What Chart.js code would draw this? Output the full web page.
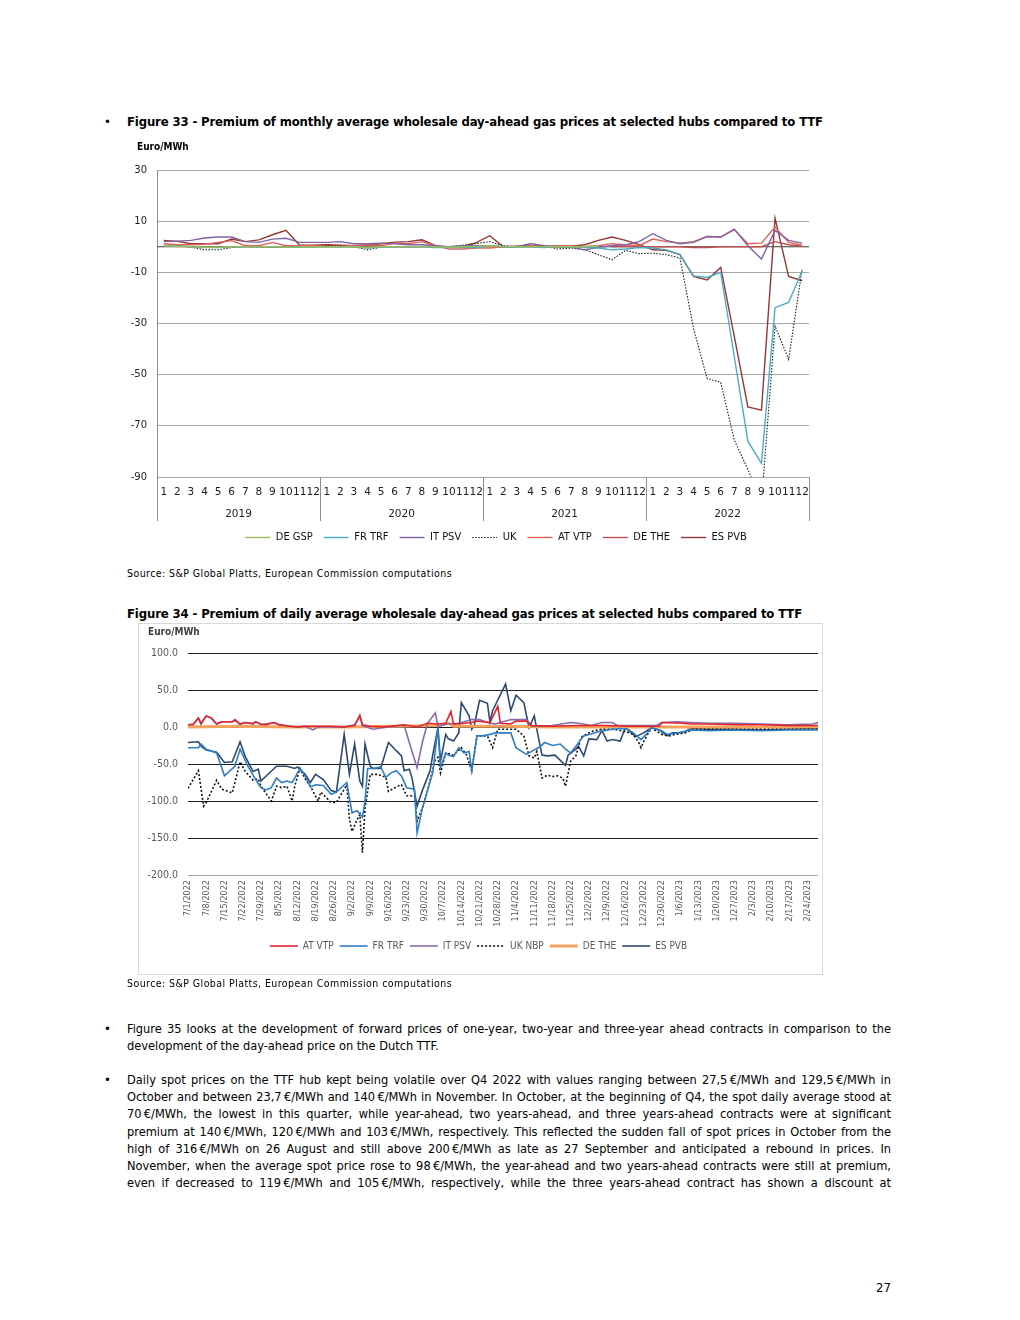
<!DOCTYPE html>
<html><head><meta charset="utf-8">
<script src="https://cdn.jsdelivr.net/npm/chart.js@4.4.0/dist/chart.umd.min.js"></script>
<style>
html,body{margin:0;padding:0;background:#fff;}
body{width:1020px;height:1320px;position:relative;overflow:hidden;font-family:'Liberation Sans Narrow','DejaVu Sans Condensed',Lato,sans-serif;color:#000;}
.t{position:absolute;white-space:nowrap;line-height:16px;}
.title{font-weight:bold;font-size:13px;}
.src{font-size:10.5px;}
.unit{font-weight:bold;font-size:10px;}
.para{position:absolute;left:127px;width:764px;font-size:12.7px;line-height:17.2px;}
.para div{text-align:justify;text-align-last:justify;white-space:nowrap;}
.para div.last{text-align-last:left;}
#box2{position:absolute;left:138px;top:623px;width:685px;height:352px;border:1px solid #D9D9D9;box-sizing:border-box;}
#c1{position:absolute;left:120px;top:138px;}
#c2{position:absolute;left:0;top:0;}
</style></head>
<body>
<div class="t" style="left:104px;top:114px;font-size:13px;">•</div>
<div class="t title" data-w="696" style="left:127px;top:114px;">Figure 33 - Premium of monthly average wholesale day-ahead gas prices at selected hubs compared to TTF</div>
<canvas id="c1" width="752" height="418"></canvas>
<div class="t unit" style="left:137px;top:139px;">Euro/MWh</div>
<div class="t src" data-w="325" style="left:127px;top:565px;">Source: S&amp;P Global Platts, European Commission computations</div>

<div class="t title" data-w="675" style="left:127px;top:606px;">Figure 34 - Premium of daily average wholesale day-ahead gas prices at selected hubs compared to TTF</div>
<div id="box2"><canvas id="c2" width="685" height="352"></canvas></div>
<div class="t unit" style="left:148px;top:624px;color:#404040;">Euro/MWh</div>
<div class="t src" data-w="325" style="left:127px;top:975px;">Source: S&amp;P Global Platts, European Commission computations</div>

<div class="t" style="left:104px;top:1021px;font-size:13px;">•</div>
<div class="para" style="top:1020px;">
<div>Figure 35 looks at the development of forward prices of one-year, two-year and three-year ahead contracts in comparison to the</div>
<div class="last">development of the day-ahead price on the Dutch TTF.</div>
</div>
<div class="t" style="left:104px;top:1072px;font-size:13px;">•</div>
<div class="para" style="top:1071px;">
<div>Daily spot prices on the TTF hub kept being volatile over Q4 2022 with values ranging between 27,5&#8239;€/MWh and 129,5&#8239;€/MWh in</div>
<div>October and between 23,7&#8239;€/MWh and 140&#8239;€/MWh in November. In October, at the beginning of Q4, the spot daily average stood at</div>
<div>70&#8239;€/MWh, the lowest in this quarter, while year-ahead, two years-ahead, and three years-ahead contracts were at significant</div>
<div>premium at 140&#8239;€/MWh, 120&#8239;€/MWh and 103&#8239;€/MWh, respectively. This reflected the sudden fall of spot prices in October from the</div>
<div>high of 316&#8239;€/MWh on 26 August and still above 200&#8239;€/MWh as late as 27 September and anticipated a rebound in prices. In</div>
<div>November, when the average spot price rose to 98&#8239;€/MWh, the year-ahead and two years-ahead contracts were still at premium,</div>
<div>even if decreased to 119&#8239;€/MWh and 105&#8239;€/MWh, respectively, while the three years-ahead contract has shown a discount at</div>
</div>
<div class="t" style="left:860px;top:1280px;width:31px;text-align:right;font-size:13px;">27</div>

<script>
// ---------- Figure 33 data (monthly, Jan 2019 - Dec 2022) ----------
const monthLabels = ['1','2','3','4','5','6','7','8','9','10','11','12',
  '1','2','3','4','5','6','7','8','9','10','11','12',
  '1','2','3','4','5','6','7','8','9','10','11','12',
  '1','2','3','4','5','6','7','8','9','10','11','12'];
const years = ['2019','2020','2021','2022'];
const deGsp = [0.3,0.2,0,-0.2,-0.2,0,0,0,0,-0.2,0,0,
  0,0,0,-0.3,0,0,0,0,0,-0.2,0,0.2,
  0.3,0,0,0,0,0,0,0,0.3,null,null,null,
  null,null,null,null,null,null,null,null,null,null,null,null];
const frTrf = [0.4,0.3,0,-0.3,-0.3,0,0,0,0,-0.2,-0.2,0,
  0,0,0,-0.5,-0.2,0,0,0,-0.3,-0.3,-0.2,-0.3,
  0.3,0,-0.2,0,-0.3,0,0,-0.3,-0.5,-1.2,-0.9,-0.3,
  -0.5,-1.2,-3.1,-11.4,-12,-10,-43,-76,-84.7,-23.8,-21.8,-9.4];
const itPsv = [2.0,2.2,2.5,3.4,3.8,3.8,2.0,1.7,3.0,3.3,1.7,1.7,
  1.7,2.0,1.2,1.2,1.4,1.2,0.8,0.8,0.4,0.0,0.4,0.4,
  0.4,0,0,1.2,0.4,-0.2,-0.2,-1.2,-0.2,0.4,0.8,2.0,
  5.1,2.5,1.2,1.7,4.0,3.8,6.9,0.4,-4.8,6.4,2.5,1.4];
const uk = [0.4,0.4,-0.1,-1.2,-1.2,-0.3,0,-0.1,-0.3,-0.3,0,0,
  0.4,0.4,0,-1.2,-0.1,-0.1,0,0,-0.1,0,0.6,1.2,
  2.0,0.4,-0.1,1.2,0.4,-0.9,-0.5,-1.2,-3.1,-5.1,-1.4,-2.7,
  -2.5,-3.1,-4.4,-32,-51.5,-53,-75.6,-87,-100,-31,-44,-8.5];
const atVtp = [1.2,0.8,0.8,1.0,1.7,2.4,0.4,0.4,1.7,0.4,0.4,0.4,
  0.4,0.4,0.4,0.8,0.4,1.4,1.2,2.0,0.4,-0.9,-0.9,-0.5,
  -0.5,0,0,0.4,0.2,0.4,0.2,0,0.4,1.2,0.8,0.4,
  3.0,2.0,1.4,2.0,4.0,3.8,6.7,1.2,1.4,7.7,1.7,0.6];
const deThe = [null,null,null,null,null,null,null,null,null,null,null,null,
  null,null,null,null,null,null,null,null,null,null,null,null,
  null,null,null,null,null,null,null,null,null,0,0.2,0,
  0,0,0,-0.3,-0.3,0,0,0,0,2.0,0.8,0.2];
const esPvb = [2.5,2.1,1.2,1.2,1.2,3.0,2.0,2.7,4.7,6.4,0.6,0.6,
  0.8,0.6,0.4,0.6,1.2,1.8,2.0,2.7,0.4,-0.2,0,1.6,
  4.3,0,0.2,0.4,0,0.2,0.2,0.8,2.5,3.8,2.5,0.8,
  -1.2,-1.4,-3.1,-11.6,-13,-8.1,-35,-62.6,-63.9,11.2,-11.6,-13.3];

// ---------- Figure 34 data (daily; x = days since 1 Jul 2022) ----------
const weekLabels = ['7/1/2022','7/8/2022','7/15/2022','7/22/2022','7/29/2022','8/5/2022','8/12/2022','8/19/2022','8/26/2022',
  '9/2/2022','9/9/2022','9/16/2022','9/23/2022','9/30/2022','10/7/2022','10/14/2022','10/21/2022','10/28/2022',
  '11/4/2022','11/11/2022','11/18/2022','11/25/2022','12/2/2022','12/9/2022','12/16/2022','12/23/2022','12/30/2022',
  '1/6/2023','1/13/2023','1/20/2023','1/27/2023','2/3/2023','2/10/2023','2/17/2023','2/24/2023'];
const lastDay = 242;
const atVtpD = [[0,3],[2,3],[4,12],[5,4],[7,15],[9,12],[11,4],[13,7],[17,7],[18,10],[20,4],[22,6],[25,5],[26,7],[28,4],[30,3],[33,6],[35,3],[39,1],[42,0],[45,1],[48,1],[55,1],[60,0],[64,2],[66,16],[67,3],[70,1],[75,0],[83,3],[88,0],[92,5],[96,4],[99,5],[101,21],[102,4],[106,5],[109,6],[111,8],[116,6],[119,28],[120,5],[124,4],[126,8],[130,8],[132,2],[140,1],[150,2],[160,2],[170,1],[181,1],[182,6],[190,5],[193,4],[200,4],[210,3],[220,3],[230,2],[240,2],[242,2]];
const frTrfD = [[0,-28],[4,-28],[5,-23],[7,-30],[11,-35],[14,-66],[18,-53],[20,-30],[23,-53],[26,-71],[28,-82],[30,-85],[32,-82],[34,-69],[36,-75],[38,-73],[40,-75],[41,-69],[43,-56],[45,-66],[47,-81],[49,-78],[52,-79],[55,-91],[57,-88],[61,-75],[63,-116],[65,-113],[67,-122],[68,-100],[69,-56],[71,-56],[74,-54],[76,-68],[78,-62],[80,-59],[82,-66],[84,-82],[87,-84],[88,-143],[90,-110],[92,-86],[94,-62],[96,-1],[97,-55],[99,-35],[100,-38],[102,-40],[104,-28],[106,-35],[108,-33],[109,-59],[111,-12],[113,-12],[116,-10],[118,-8],[124,-8],[126,-28],[130,-37],[132,-33],[135,-27],[137,-21],[140,-25],[143,-23],[145,-30],[147,-35],[149,-26],[152,-12],[154,-10],[158,-6],[163,-3],[166,-2],[169,-3],[171,-8],[174,-17],[176,-10],[178,-1],[182,-5],[184,-10],[188,-8],[193,-4],[200,-5],[210,-4],[220,-5],[230,-4],[242,-4]];
const itPsvD = [[0,3],[2,4],[4,12],[5,5],[7,15],[9,12],[11,4],[13,7],[17,7],[18,9],[20,4],[22,6],[25,4],[26,7],[28,3],[33,6],[35,3],[42,0],[45,1],[48,-4],[50,0],[60,0],[64,3],[66,14],[67,2],[71,-3],[83,3],[85,-21],[88,-55],[90,-21],[92,5],[95,19],[96,0],[99,4],[104,5],[109,10],[112,10],[115,6],[118,4],[124,10],[130,10],[132,1],[140,2],[147,6],[150,5],[155,2],[159,6],[163,6],[165,2],[170,2],[180,2],[182,6],[188,7],[193,6],[200,5],[210,5],[220,4],[230,3],[240,4],[242,6]];
const ukNbpD = [[0,-83],[4,-59],[6,-107],[7,-102],[11,-72],[13,-84],[17,-89],[20,-47],[22,-60],[25,-72],[27,-70],[28,-80],[32,-100],[34,-80],[36,-82],[38,-80],[40,-100],[41,-80],[43,-56],[45,-70],[47,-80],[50,-100],[51,-88],[53,-95],[55,-102],[57,-102],[61,-78],[62,-125],[63,-141],[65,-125],[66,-118],[67,-170],[68,-110],[70,-64],[73,-64],[76,-68],[77,-87],[80,-81],[82,-78],[84,-93],[87,-93],[88,-127],[90,-110],[92,-86],[95,-44],[96,-41],[97,-62],[99,-35],[102,-38],[105,-28],[107,-38],[109,-59],[111,-12],[113,-12],[115,-12],[117,-28],[119,-3],[123,-3],[126,-3],[129,-12],[131,-39],[133,-42],[134,-33],[136,-69],[138,-65],[140,-67],[142,-66],[144,-69],[145,-80],[147,-46],[149,-39],[151,-14],[155,-6],[159,-3],[163,-3],[168,-6],[171,-10],[173,-20],[174,-28],[175,-20],[178,-1],[182,-10],[185,-12],[187,-10],[191,-8],[194,-3],[210,-3],[225,-3],[242,-3]];
const deTheD = [[0,0],[20,1],[40,0],[60,0],[80,1],[96,2],[100,5],[102,1],[120,1],[140,0],[160,0],[180,0],[200,0],[220,0],[242,0]];
const esPvbD = [[0,-21],[4,-20],[5,-26],[7,-31],[11,-34],[14,-48],[17,-47],[20,-20],[22,-40],[25,-60],[27,-57],[28,-73],[34,-53],[38,-53],[41,-56],[42,-54],[45,-64],[47,-75],[49,-64],[52,-71],[55,-86],[57,-88],[60,-10],[62,-64],[64,-23],[66,-73],[67,-80],[68,-23],[70,-53],[71,-56],[74,-56],[77,-21],[80,-32],[82,-39],[83,-59],[85,-57],[86,-68],[88,-107],[90,-86],[93,-59],[94,-38],[96,-1],[97,-46],[99,-10],[100,-16],[102,-19],[104,-8],[105,33],[108,15],[109,-3],[110,3],[112,36],[115,32],[116,7],[117,22],[122,58],[124,22],[126,43],[129,33],[131,-1],[133,15],[135,-21],[136,-38],[138,-39],[141,-38],[145,-52],[146,-38],[149,-30],[150,-26],[152,-39],[154,-16],[157,-17],[159,-5],[161,-19],[163,-17],[166,-19],[168,-1],[171,-10],[172,-13],[175,-8],[178,-1],[181,-4],[184,-12],[186,-8],[188,-8],[191,-6],[193,-2],[200,-3],[210,-3],[220,-4],[230,-3],[240,-2],[242,-2]];

// fit title / source widths
document.querySelectorAll('[data-w]').forEach(el => {
  const w = +el.dataset.w, cur = el.getBoundingClientRect().width, n = el.textContent.length;
  el.style.letterSpacing = ((w - cur) / n).toFixed(3) + 'px';
});

const NARROW = "'Liberation Sans Narrow','DejaVu Sans Condensed',Lato,sans-serif";
Chart.defaults.font.family = NARROW;

// legend items drawn as line samples using each dataset's own line style
function lineLegendLabels(chart) {
  const items = Chart.defaults.plugins.legend.labels.generateLabels(chart);
  items.forEach(it => {
    const ds = chart.data.datasets[it.datasetIndex];
    it.pointStyle = 'line';
    it.strokeStyle = ds.borderColor;
    it.fillStyle = ds.borderColor;
    it.lineWidth = ds.borderWidth;
    it.lineDash = ds.borderDash || [];
    it.lineCap = 'butt';
  });
  return items;
}

// ---------- Chart 1 ----------
const yearSeparators = {
  id: 'yearSeparators',
  beforeDatasetsDraw(chart) {
    const {ctx, chartArea: ca, scales} = chart;
    const y0 = scales.y.getPixelForValue(0);
    ctx.save();
    ctx.strokeStyle = '#3a3a3a'; ctx.lineWidth = 1.2;
    ctx.beginPath(); ctx.moveTo(ca.left, y0); ctx.lineTo(ca.right, y0); ctx.stroke();
    ctx.restore();
  },
  afterDraw(chart) {
    const {ctx, chartArea: ca, scales} = chart;
    const sx = scales.x, s2 = scales.x2;
    const per = monthLabels.length / years.length;
    ctx.save();
    ctx.strokeStyle = '#8C8C8C'; ctx.lineWidth = 1;
    for (let i = 0; i <= years.length; i++) {
      let xp;
      if (i === 0) xp = ca.left;
      else if (i === years.length) xp = ca.right;
      else xp = (sx.getPixelForValue(i * per - 1) + sx.getPixelForValue(i * per)) / 2;
      xp = Math.round(xp) + 0.5;
      ctx.beginPath(); ctx.moveTo(xp, ca.bottom); ctx.lineTo(xp, s2.bottom); ctx.stroke();
    }
    ctx.restore();
  }
};
function ds1(label, data, color, extra) {
  return Object.assign({label, data, borderColor: color, backgroundColor: color, borderWidth: 1.4, pointRadius: 0, tension: 0, fill: false, spanGaps: false}, extra || {});
}
new Chart(document.getElementById('c1'), {
  type: 'line',
  data: {labels: monthLabels, datasets: [
    ds1('DE GSP', deGsp, '#9BBB59'),
    ds1('FR TRF', frTrf, '#4BACC6'),
    ds1('IT PSV', itPsv, '#8064A2'),
    ds1('UK', uk, '#1a1a1a', {borderDash: [1.5, 1.5], borderWidth: 1.1}),
    ds1('AT VTP', atVtp, '#E0605C'),
    ds1('DE THE', deThe, '#C0504D'),
    ds1('ES PVB', esPvb, '#963634')
  ]},
  options: {
    responsive: false, animation: false, devicePixelRatio: 1,
    layout: {padding: {top: 32, right: 0, left: 0, bottom: 3}},
    scales: {
      x: {type: 'category', offset: true, weight: 0,
        grid: {display: false, drawTicks: false}, border: {display: false},
        ticks: {autoSkip: false, maxRotation: 0, minRotation: 0, padding: 9, color: '#222', font: {family: 'DejaVu Sans', size: 10.5}},
        afterFit(s) { s.height = 24; }},
      x2: {type: 'category', labels: years, offset: true, position: 'bottom', weight: 1,
        grid: {display: false, drawTicks: false}, border: {display: false},
        ticks: {maxRotation: 0, padding: 7, color: '#222', font: {family: 'DejaVu Sans', size: 10.5}},
        afterFit(s) { s.height = 20; }},
      y: {min: -90, max: 30,
        ticks: {stepSize: 20, padding: 10, color: '#222', font: {family: 'DejaVu Sans', size: 10}},
        grid: {color: '#A6A6A6', drawTicks: false, lineWidth: 1},
        border: {display: true, color: '#8C8C8C'},
        afterFit(s) { s.width = 37; }},
      // empty right-hand spacer axis so the full-width legend is centred like the original
      yRight: {type: 'linear', position: 'right', display: true,
        grid: {display: false, drawTicks: false}, border: {display: false},
        ticks: {display: false},
        afterFit(s) { s.width = 63; }}
    },
    plugins: {
      legend: {position: 'bottom', labels: {usePointStyle: true, pointStyle: 'line', pointStyleWidth: 25, padding: 11, color: '#111', font: {family: NARROW, size: 11}, generateLabels: lineLegendLabels}},
      tooltip: {enabled: false}
    }
  },
  plugins: [yearSeparators]
});

// ---------- Chart 2 ----------
function ds2(label, pts, color, extra) {
  return Object.assign({label, data: pts.map(p => ({x: p[0], y: p[1]})), borderColor: color, backgroundColor: color, borderWidth: 1.6, pointRadius: 0, tension: 0, fill: false}, extra || {});
}
new Chart(document.getElementById('c2'), {
  type: 'line',
  data: {datasets: [
    ds2('AT VTP', atVtpD, '#E3232C'),
    ds2('FR TRF', frTrfD, '#2E7EC2'),
    ds2('IT PSV', itPsvD, '#8A6AAE'),
    ds2('UK NBP', ukNbpD, '#111111', {borderDash: [2, 2], borderWidth: 1.6}),
    ds2('DE THE', deTheD, '#F4A35C', {borderWidth: 3}),
    ds2('ES PVB', esPvbD, '#2C4A70')
  ]},
  options: {
    responsive: false, animation: false, devicePixelRatio: 1,
    layout: {padding: {top: 29, right: 6, left: 0, bottom: 15}},
    scales: {
      x: {type: 'linear', min: 0, max: lastDay,
        grid: {display: false, drawTicks: false}, border: {display: false},
        afterBuildTicks(s) { s.ticks = weekLabels.map((_, i) => ({value: i * 7})); },
        ticks: {autoSkip: false, minRotation: 90, maxRotation: 90, padding: 5, color: '#595959', font: {family: NARROW, size: 9},
          callback: v => weekLabels[Math.round(v / 7)] || ''},
        afterFit(s) { s.height = 60; }},
      y: {min: -200, max: 100,
        ticks: {stepSize: 50, padding: 10, color: '#595959', font: {family: NARROW, size: 10.5}, callback: v => v.toFixed(1)},
        grid: {drawTicks: false, lineWidth: 1, color: c => c.tick && c.tick.value === -200 ? '#A6A6A6' : '#1F1F1F'},
        border: {display: false},
        afterFit(s) { s.width = 49; }}
    },
    plugins: {
      legend: {position: 'bottom', labels: {usePointStyle: true, pointStyle: 'line', pointStyleWidth: 28, padding: 6, color: '#595959', font: {family: NARROW, size: 10}, generateLabels: lineLegendLabels}},
      tooltip: {enabled: false}
    }
  }
});
</script>
</body></html>
